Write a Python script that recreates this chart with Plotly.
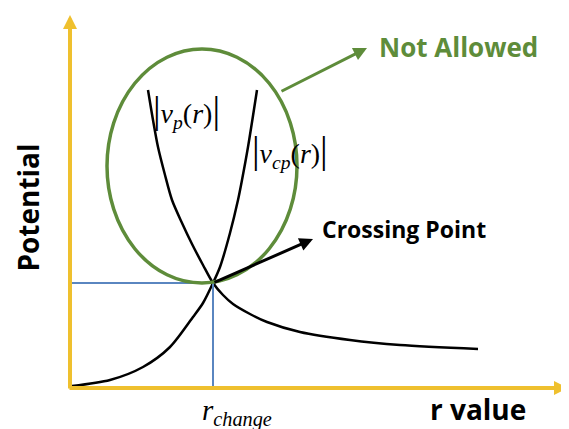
import plotly.graph_objects as go

# ---- data (r units, potential units) ----
vp_r = [1.95, 2.075, 2.2, 2.375, 2.55, 2.8, 3.05, 3.325, 3.575, 3.825, 4.075, 4.5, 4.925, 5.75, 7.0, 8.25, 10.2]
vp_v = [7.45, 6.7, 6.025, 5.325, 4.7, 4.125, 3.6, 3.075, 2.625, 2.325, 2.1, 1.85, 1.65, 1.4, 1.2, 1.075, 0.975]

vcp_r = [0.05, 1.0, 1.825, 2.5, 3.075, 3.325, 3.575, 3.75, 4.0, 4.2, 4.3, 4.45, 4.675]
vcp_v = [0.05, 0.2, 0.525, 1.025, 1.775, 2.125, 2.625, 3.025, 3.875, 4.7, 5.2, 6.025, 7.45]

r_change = 3.575
v_change = 2.625

ellipse_r = [0.925, 5.675]
ellipse_v = [2.625, 8.475]

r_axis_end = 12.45
v_axis_end = 9.325

not_allowed_arrow_r = [5.25, 7.425]
not_allowed_arrow_v = [7.4, 8.5]
crossing_arrow_tip = [6.075, 3.725]

# ---- figure ----
YEL = "#EFC02E"
GRN = "#5E8C3A"
BLU = "#5A86C0"

fig = go.Figure()

fig.add_trace(go.Scatter(x=vp_r, y=vp_v, mode="lines",
                         line=dict(color="black", width=2.5, shape="spline", smoothing=0.8),
                         hoverinfo="skip"))
fig.add_trace(go.Scatter(x=vcp_r, y=vcp_v, mode="lines",
                         line=dict(color="black", width=2.5, shape="spline", smoothing=0.8),
                         hoverinfo="skip"))
# guide lines
fig.add_trace(go.Scatter(x=[0, r_change, r_change], y=[v_change, v_change, 0], mode="lines",
                         line=dict(color=BLU, width=2), hoverinfo="skip"))

fig.add_shape(type="circle", xref="x", yref="y", x0=ellipse_r[0], x1=ellipse_r[1],
              y0=ellipse_v[0], y1=ellipse_v[1], line=dict(color=GRN, width=3.5))

ann = []
# axes arrows
ann.append(dict(x=0, y=v_axis_end, ax=0, ay=-0.05, xref="x", yref="y", axref="x", ayref="y",
                showarrow=True, arrowhead=2, arrowsize=0.7, arrowwidth=4, arrowcolor=YEL, text=""))
ann.append(dict(x=r_axis_end, y=0, ax=-0.05, ay=0, xref="x", yref="y", axref="x", ayref="y",
                showarrow=True, arrowhead=2, arrowsize=0.7, arrowwidth=4, arrowcolor=YEL, text=""))
# not allowed arrow
ann.append(dict(x=not_allowed_arrow_r[1], y=not_allowed_arrow_v[1], ax=not_allowed_arrow_r[0],
                ay=not_allowed_arrow_v[0], xref="x", yref="y", axref="x", ayref="y",
                showarrow=True, arrowhead=2, arrowsize=0.9, arrowwidth=3, arrowcolor=GRN, text=""))
# crossing point arrow
ann.append(dict(x=crossing_arrow_tip[0], y=crossing_arrow_tip[1], ax=r_change, ay=v_change,
                xref="x", yref="y", axref="x", ayref="y",
                showarrow=True, arrowhead=2, arrowsize=0.9, arrowwidth=3, arrowcolor="black", text=""))

bold = "Open Sans"
serif = "Liberation Serif"
bar = "<span style='font-size:38px'>|</span>"
ann.append(dict(x=7.675, y=8.525, text="<b>Not Allowed</b>", showarrow=False, xanchor="left", yanchor="middle",
                font=dict(family=bold, size=26, color=GRN)))
ann.append(dict(x=6.25, y=3.975, text="<b>Crossing Point</b>", showarrow=False, xanchor="left", yanchor="middle",
                font=dict(family=bold, size=23, color="black")))
ann.append(dict(x=10.2, y=-0.52, text="<b>r value</b>", showarrow=False, xanchor="center", yanchor="middle",
                borderpad=0, font=dict(family=bold, size=28, color="black")))
ann.append(dict(x=-1.06, y=4.5, text="<b>Potential</b>", showarrow=False, textangle=-90, borderpad=0,
                xanchor="center", yanchor="middle", font=dict(family=bold, size=28, color="black")))
ann.append(dict(x=2.9, y=6.925, text=bar + "<i>v</i><sub><i>p</i></sub>(<i>r</i>)" + bar, showarrow=False,
                xanchor="center", yanchor="middle", font=dict(family=serif, size=28, color="black")))
ann.append(dict(x=5.51, y=5.925, text=bar + "<i>v</i><sub><i>cp</i></sub>(<i>r</i>)" + bar, showarrow=False,
                xanchor="center", yanchor="middle", font=dict(family=serif, size=28, color="black")))
ann.append(dict(x=3.275, y=-0.6, text="<i>r</i><sub><i>change</i></sub>", showarrow=False, borderpad=0,
                xanchor="left", yanchor="middle", font=dict(family=serif, size=29, color="black")))

# the page body has an 8px default margin, so the ranges are offset by it
fig.update_layout(
    width=569, height=429, margin=dict(l=0, r=0, t=0, b=0),
    paper_bgcolor="white", plot_bgcolor="white", showlegend=False,
    annotations=ann,
    xaxis=dict(range=[-1.55, 12.675], visible=False, showgrid=False, zeroline=False, fixedrange=True),
    yaxis=dict(range=[-1.225, 9.5], visible=False, showgrid=False, zeroline=False, fixedrange=True),
)

fig.write_html("out.html")
